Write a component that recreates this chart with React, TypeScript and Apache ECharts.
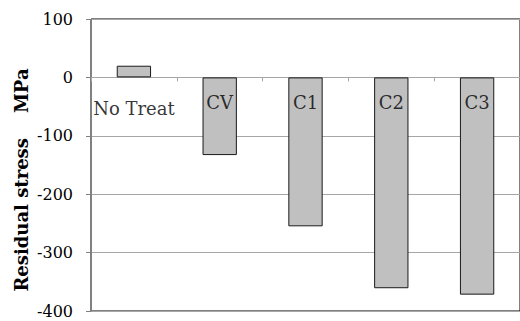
import React, { useEffect, useRef } from "react";
import * as echarts from "echarts";

const categories = ["No Treat", "CV", "C1", "C2", "C3"];
const stressValues = [20, -133, -255, -361, -372];
const labelValues = [-53, -43, -43, -43, -43];
const yTicks = { min: -400, max: 100, interval: 100 };
const axisTitle = "Residual stress    MPa";

export default function App() {
  const ref = useRef<HTMLDivElement>(null);
  useEffect(() => {
    if (!ref.current) return;
    const chart = echarts.init(ref.current, null, { renderer: "svg" });
    const serif = "DejaVu Serif";
    chart.setOption({
      animation: false,
      backgroundColor: "#ffffff",
      grid: {
        left: 91,
        top: 19,
        right: -3,
        bottom: 10,
        show: true,
        borderColor: "#000000",
        borderWidth: 1,
        backgroundColor: "transparent",
      },
      xAxis: {
        type: "category",
        data: categories,
        axisLine: { onZero: true, lineStyle: { color: "#a6a6a6", width: 1 } },
        axisTick: { show: true, length: 4, lineStyle: { color: "#a6a6a6" } },
        axisLabel: { show: false },
        splitLine: { show: false },
      },
      yAxis: {
        type: "value",
        min: yTicks.min,
        max: yTicks.max,
        interval: yTicks.interval,
        axisLine: { show: true, lineStyle: { color: "#808080", width: 1 } },
        axisTick: { show: true, length: 5, lineStyle: { color: "#808080" } },
        axisLabel: {
          margin: 18,
          fontFamily: serif,
          fontSize: 16,
          color: "#000000",
        },
        splitLine: { show: true, lineStyle: { color: "#a6a6a6", width: 1 } },
      },
      graphic: [
        {
          type: "text",
          x: 21,
          y: 180,
          rotation: Math.PI / 2,
          style: {
            text: axisTitle,
            fontFamily: serif,
            fontWeight: "bold",
            fontSize: 18,
            fill: "#000000",
            textAlign: "center",
            textVerticalAlign: "middle",
          },
        },
      ],
      series: [
        {
          type: "bar",
          data: stressValues,
          barWidth: "40%",
          itemStyle: { color: "#c0c0c0", borderColor: "#1a1a1a", borderWidth: 1 },
          label: { show: false },
          z: 2,
        },
        {
          type: "scatter",
          data: labelValues,
          symbolSize: 0,
          silent: true,
          z: 5,
          label: {
            show: true,
            position: "inside",
            formatter: (p: any) => categories[p.dataIndex],
            fontFamily: serif,
            fontSize: 18,
            color: "#000000",
          },
        },
      ],
    });
    return () => chart.dispose();
  }, []);
  return (
    <div
      ref={ref}
      style={{ position: "fixed", left: 0, top: 0, width: 520, height: 321 }}
    />
  );
}
